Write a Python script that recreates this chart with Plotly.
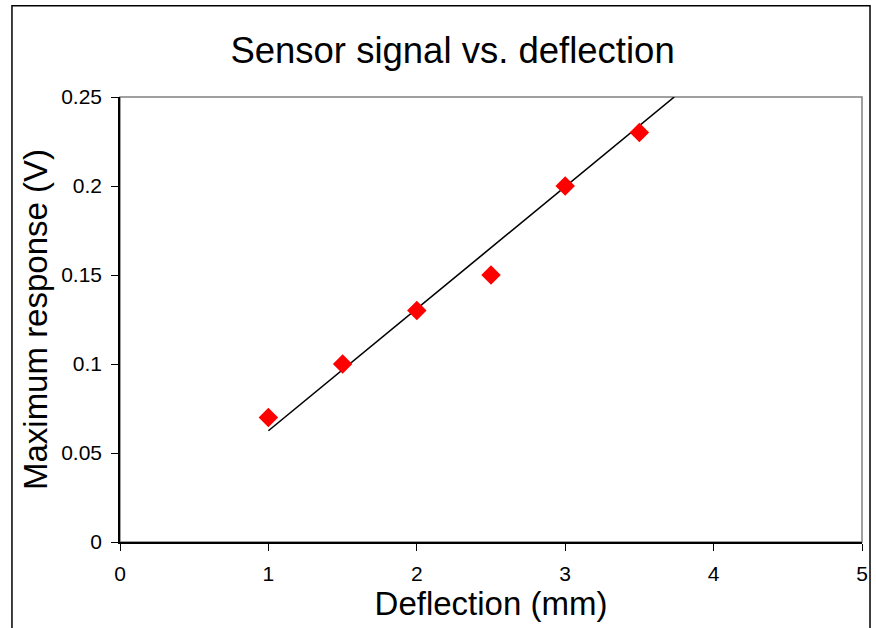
import plotly.graph_objects as go

# Data
deflection_mm = [1.0, 1.5, 2.0, 2.5, 3.0, 3.5]
max_response_v = [0.07, 0.10, 0.13, 0.15, 0.20, 0.23]

# Linear trend line (endpoints)
trend_x = [1.0, 3.735]
trend_y = [0.0625, 0.25]

x_ticks = [0, 1, 2, 3, 4, 5]
y_ticks = [0, 0.05, 0.1, 0.15, 0.2, 0.25]
y_tick_labels = ["0", "0.05", "0.1", "0.15", "0.2", "0.25"]

FONT = "Liberation Sans, Arial, sans-serif"

fig = go.Figure()
fig.add_trace(go.Scatter(
    x=trend_x, y=trend_y, mode="lines",
    line=dict(color="black", width=1.6),
    showlegend=False, hoverinfo="skip",
))
fig.add_trace(go.Scatter(
    x=deflection_mm, y=max_response_v, mode="markers",
    marker=dict(symbol="diamond", size=15, color="#FF0000", line=dict(width=0)),
    showlegend=False, cliponaxis=False,
))

# plot-area border (gray) and outer chart border
fig.add_shape(type="rect", xref="paper", yref="paper", x0=0, x1=1, y0=0, y1=1,
              line=dict(color="#808080", width=1.5), layer="below")
fig.add_shape(type="rect", xref="paper", yref="paper",
              x0=-0.1456, x1=1.0108, y0=-0.23, y1=1.2052,
              line=dict(color="black", width=1.5), layer="below")

fig.update_layout(
    width=876, height=628,
    margin=dict(l=120, r=14, t=97, b=86),
    paper_bgcolor="white", plot_bgcolor="white",
    font=dict(family=FONT, color="black"),
    title=dict(text="Sensor signal vs. deflection", font=dict(size=36.5, color="black"),
               x=0.5166, xref="container", xanchor="center",
               y=1 - 50 / 628, yref="container", yanchor="middle"),
    xaxis=dict(
        range=[0, 5], tickvals=x_ticks, ticktext=[str(v) for v in x_ticks],
        showgrid=False, zeroline=False, automargin=False,
        showline=True, linecolor="black", linewidth=1.5,
        ticks="outside", ticklen=7, tickcolor="black", tickwidth=1,
        ticklabelstandoff=5,
        tickfont=dict(size=21, color="black"),
        title=dict(text="Deflection (mm)", font=dict(size=33, color="black"), standoff=0),
    ),
    yaxis=dict(
        range=[0, 0.25], tickvals=y_ticks, ticktext=y_tick_labels,
        showgrid=False, zeroline=False, automargin=False,
        showline=True, linecolor="black", linewidth=1.5,
        ticks="outside", ticklen=7, tickcolor="black", tickwidth=1,
        ticklabelstandoff=5,
        tickfont=dict(size=21, color="black"),
        title=dict(text="Maximum response (V)", font=dict(size=33, color="black"), standoff=4),
    ),
)

fig.write_html("out.html", config={"displayModeBar": False},
               post_script="document.body.style.margin='0';")
